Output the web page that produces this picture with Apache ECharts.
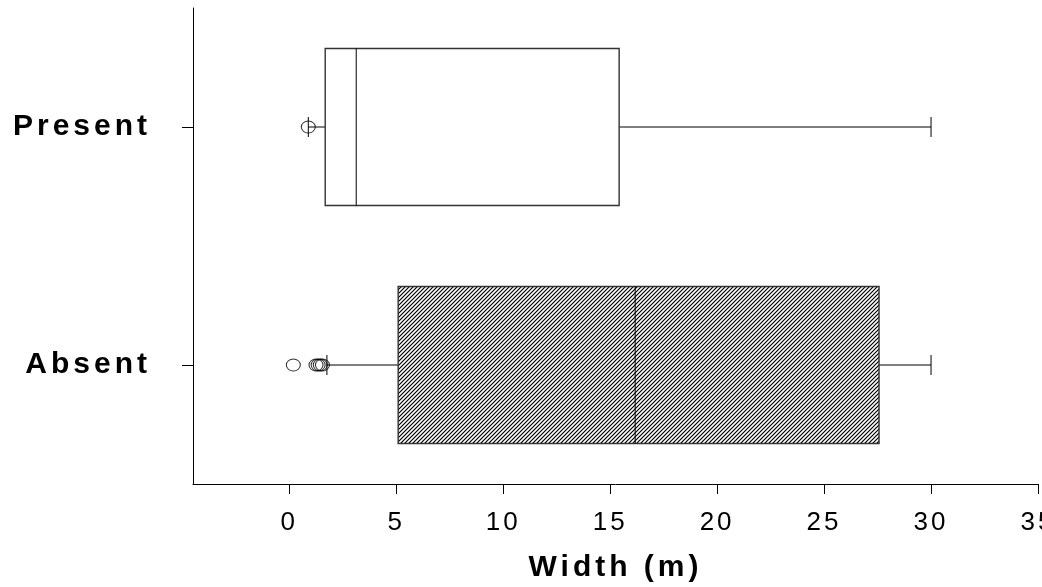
<!DOCTYPE html>
<html>
<head>
<meta charset="utf-8">
<script src="https://cdn.jsdelivr.net/npm/echarts@6/dist/echarts.min.js"></script>
<style>
  html, body { margin: 0; padding: 0; background: #ffffff; }
  #chart { width: 1042px; height: 587px; }
</style>
</head>
<body>
<div id="chart"></div>
<script>
// ---- data ----
const categories = ['Absent', 'Present'];
const whiskerLow = [1.76, 0.89];
const q1 = [5.09, 1.68];
const median = [16.17, 3.13];
const q3 = [27.57, 15.42];
const whiskerHigh = [30.0, 30.0];
const outliersAbsent = [0.19, 1.25, 1.35, 1.45, 1.55];
const outliersPresent = [0.89];
const xTicks = [0, 5, 10, 15, 20, 25, 30, 35];

// letter spacing similar to the reference typography
const _fillText = CanvasRenderingContext2D.prototype.fillText;
CanvasRenderingContext2D.prototype.fillText = function (t, x, y, m) {
  const prev = this.letterSpacing;
  this.letterSpacing = /bold/.test(this.font) ? '4px' : '3px';
  const r = m === undefined ? _fillText.call(this, t, x, y) : _fillText.call(this, t, x, y, m);
  this.letterSpacing = prev;
  return r;
};

function hatchPattern() {
  const s = 4;
  const c = document.createElement('canvas');
  c.width = s; c.height = s;
  const g = c.getContext('2d');
  g.fillStyle = '#ffffff';
  g.fillRect(0, 0, s, s);
  g.strokeStyle = '#000000';
  g.lineWidth = 1.2;
  g.beginPath();
  g.moveTo(0, s); g.lineTo(s, 0);
  g.moveTo(-1, 1); g.lineTo(1, -1);
  g.moveTo(s - 1, s + 1); g.lineTo(s + 1, s - 1);
  g.stroke();
  return { image: c, repeat: 'repeat' };
}
const hatch = hatchPattern();

const boxData = categories.map((c, i) => [i, whiskerLow[i], q1[i], median[i], q3[i], whiskerHigh[i]]);
const outlierData = outliersAbsent.map(v => [v, 0]).concat(outliersPresent.map(v => [v, 1]));

const FONT = '"Liberation Sans", Arial, sans-serif';
const chart = echarts.init(document.getElementById('chart'), null, { renderer: 'canvas' });

chart.setOption({
  animation: false,
  backgroundColor: '#ffffff',
  grid: { left: 193, right: 4, top: 8, bottom: 103, containLabel: false, outerBoundsMode: 'none' },
  xAxis: {
    type: 'value',
    min: -4.5,
    max: 35,
    name: 'Width (m)',
    nameLocation: 'middle',
    nameGap: 69,
    nameTextStyle: { fontFamily: FONT, fontSize: 30, fontWeight: 'bold', color: '#000' },
    splitLine: { show: false },
    axisLine: { show: true, onZero: false, lineStyle: { color: '#000', width: 1 } },
    axisTick: { show: true, length: 10, inside: false, customValues: xTicks, lineStyle: { color: '#000', width: 1 } },
    axisLabel: { show: true, margin: 26, customValues: xTicks, fontFamily: FONT, fontSize: 26, color: '#000',
      showMinLabel: true, showMaxLabel: true, hideOverlap: false }
  },
  yAxis: {
    type: 'category',
    data: categories,
    boundaryGap: true,
    axisLine: { show: true, onZero: false, lineStyle: { color: '#000', width: 1 } },
    axisTick: { show: true, length: 11, alignWithLabel: true, lineStyle: { color: '#000', width: 1 } },
    axisLabel: { margin: 42, fontFamily: FONT, fontSize: 30, fontWeight: 'bold', color: '#000' },
    splitLine: { show: false }
  },
  series: [
    {
      type: 'custom',
      data: boxData,
      encode: { x: [1, 2, 3, 4, 5], y: 0 },
      z: 2,
      renderItem: function (params, api) {
        const cat = api.value(0);
        const idx = params.dataIndex;
        const pLow = api.coord([api.value(1), cat]);
        const pQ1 = api.coord([api.value(2), cat]);
        const pMed = api.coord([api.value(3), cat]);
        const pQ3 = api.coord([api.value(4), cat]);
        const pHigh = api.coord([api.value(5), cat]);
        const h = api.size([0, 1])[1] * 0.66;
        const cy = pMed[1];
        const capH = 20;
        const lineStyle = { stroke: '#000', lineWidth: 1 };
        return {
          type: 'group',
          children: [
            { type: 'line', shape: { x1: pLow[0], y1: cy, x2: pQ1[0], y2: cy }, style: lineStyle },
            { type: 'line', shape: { x1: pQ3[0], y1: cy, x2: pHigh[0], y2: cy }, style: lineStyle },
            { type: 'line', shape: { x1: pLow[0], y1: cy - capH / 2, x2: pLow[0], y2: cy + capH / 2 }, style: lineStyle },
            { type: 'line', shape: { x1: pHigh[0], y1: cy - capH / 2, x2: pHigh[0], y2: cy + capH / 2 }, style: lineStyle },
            { type: 'rect', shape: { x: pQ1[0], y: cy - h / 2, width: pQ3[0] - pQ1[0], height: h },
              style: { fill: idx === 0 ? hatch : '#ffffff', stroke: '#333', lineWidth: 1.4 } },
            { type: 'line', shape: { x1: pMed[0], y1: cy - h / 2, x2: pMed[0], y2: cy + h / 2 }, style: lineStyle }
          ]
        };
      }
    },
    {
      type: 'scatter',
      data: outlierData,
      z: 3,
      symbol: 'circle',
      symbolSize: [14, 12],
      itemStyle: { color: 'rgba(255,255,255,0)', borderColor: '#000', borderWidth: 1 }
    }
  ]
});
</script>
</body>
</html>
